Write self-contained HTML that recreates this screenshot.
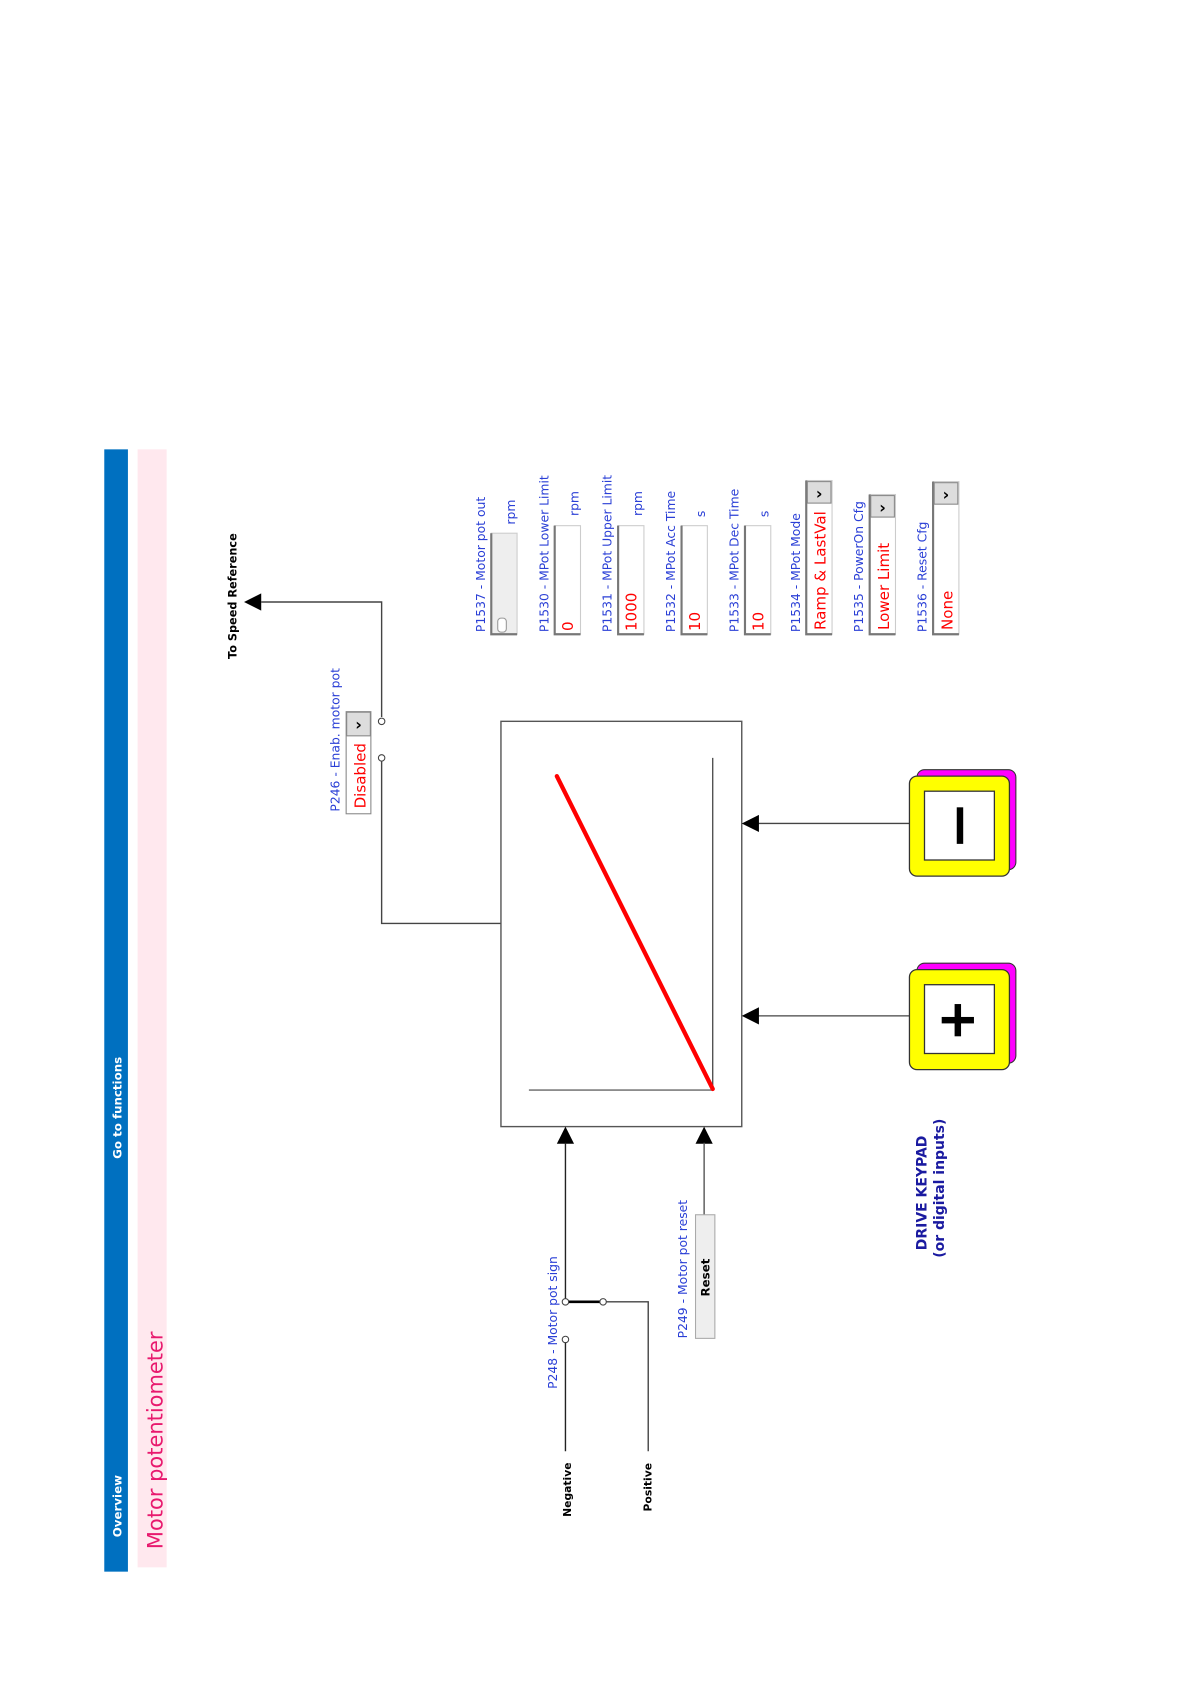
<!DOCTYPE html>
<html><head><meta charset="utf-8"><style>
html,body{margin:0;padding:0;background:#fff;}
svg{display:block;}
text{font-family:"DejaVu Sans","Liberation Sans",sans-serif;}
</style></head><body>
<svg width="1191" height="1684" viewBox="0 0 1191 1684" xmlns="http://www.w3.org/2000/svg">
<g transform="scale(1.075)">
<!-- header bars -->
<rect x="97" y="418" width="22" height="1044" fill="#0070c0"/>
<rect x="128" y="418" width="27" height="1040" fill="#ffe8ee"/>
<text transform="translate(113,1430) rotate(-90)" font-size="11" font-weight="bold" fill="#fff">Overview</text>
<text transform="translate(113,1078) rotate(-90)" font-size="11" font-weight="bold" fill="#fff">Go to functions</text>
<text transform="translate(151,1441) rotate(-90)" font-size="19.5" fill="#e8196e" font-family="Liberation Sans">Motor potentiometer</text>

<!-- To speed ref -->
<text transform="translate(220,613) rotate(-90)" font-size="10.5" font-weight="bold" fill="#000">To Speed Reference</text>
<polyline points="243,560 355,560 355,667" fill="none" stroke="#444" stroke-width="1.3"/>
<polygon points="227,560 243,552 243,568" fill="#000"/>
<circle cx="355" cy="671" r="3" fill="#fff" stroke="#444"/>
<circle cx="355" cy="705" r="3" fill="#fff" stroke="#444"/>
<polyline points="355,708 355,859 466,859" fill="none" stroke="#444" stroke-width="1.3"/>
<!-- P246 -->
<text transform="translate(316,755) rotate(-90)" font-size="11.5" fill="#2a3fd6">P246 - Enab. motor pot</text>
<rect x="322" y="662" width="23" height="95" fill="#fff" stroke="#888"/>
<rect x="322.5" y="662.5" width="22" height="22" fill="#ddd" stroke="#888"/>
<text x="333.5" y="679" text-anchor="middle" font-size="15" font-weight="bold" fill="#000">›</text>
<text transform="translate(340,752) rotate(-90)" font-size="14" fill="#f00" font-family="Liberation Sans">Disabled</text>

<!-- main box -->
<rect x="466" y="671" width="224" height="377" fill="#fff" stroke="#555" stroke-width="1.3"/>
<line x1="663" y1="705" x2="663" y2="1014" stroke="#444" stroke-width="1.2"/>
<line x1="492" y1="1014" x2="663" y2="1014" stroke="#666" stroke-width="1.2"/>
<line x1="518" y1="722" x2="663" y2="1013" stroke="#f00" stroke-width="4" stroke-linecap="round"/>

<!-- right arrows -->
<line x1="705" y1="766" x2="847" y2="766" stroke="#444" stroke-width="1.2"/>
<polygon points="690,766 706,758 706,774" fill="#000"/>
<line x1="705" y1="945" x2="847" y2="945" stroke="#444" stroke-width="1.2"/>
<polygon points="690,945 706,937 706,953" fill="#000"/>

<!-- keys -->
<rect x="853" y="716" width="92" height="93" rx="7" fill="#ff00ff" stroke="#333"/>
<rect x="846" y="722" width="93" height="93" rx="7" fill="#ffff00" stroke="#333" stroke-width="1.2"/>
<rect x="860" y="736" width="65" height="64" fill="#fff" stroke="#333" stroke-width="1.2"/>
<rect x="890" y="751" width="6" height="34" fill="#000"/>
<rect x="853" y="896" width="92" height="93" rx="7" fill="#ff00ff" stroke="#333"/>
<rect x="846" y="902" width="93" height="93" rx="7" fill="#ffff00" stroke="#333" stroke-width="1.2"/>
<rect x="860" y="916" width="65" height="64" fill="#fff" stroke="#333" stroke-width="1.2"/>
<rect x="876" y="946" width="30" height="6" fill="#000"/>
<rect x="888" y="934" width="6" height="30" fill="#000"/>
<text transform="translate(862,1163) rotate(-90)" font-size="13" font-weight="bold" fill="#1a1aa0" font-family="Liberation Sans">DRIVE KEYPAD</text>
<text transform="translate(878,1170) rotate(-90)" font-size="13" font-weight="bold" fill="#1a1aa0" font-family="Liberation Sans">(or digital inputs)</text>

<!-- bottom inputs -->
<polygon points="526,1048 518,1064 534,1064" fill="#000"/>
<line x1="526" y1="1063" x2="526" y2="1208" stroke="#222" stroke-width="1.3"/>
<polygon points="655,1048 647,1064 663,1064" fill="#000"/>
<line x1="655" y1="1063" x2="655" y2="1130" stroke="#555" stroke-width="1.3"/>
<line x1="526" y1="1211" x2="561" y2="1211" stroke="#000" stroke-width="2.5"/>
<circle cx="526" cy="1211" r="3" fill="#fff" stroke="#444"/>
<circle cx="561" cy="1211" r="3" fill="#fff" stroke="#444"/>
<circle cx="526" cy="1246" r="3" fill="#fff" stroke="#444"/>
<polyline points="564,1211 603,1211 603,1350" fill="none" stroke="#444" stroke-width="1.3"/>
<line x1="526" y1="1249" x2="526" y2="1350" stroke="#222" stroke-width="1.3"/>
<text transform="translate(518,1292) rotate(-90)" font-size="11.5" fill="#2a3fd6">P248 - Motor pot sign</text>
<text transform="translate(531,1411) rotate(-90)" font-size="10" font-weight="bold" fill="#000">Negative</text>
<text transform="translate(606,1406) rotate(-90)" font-size="10" font-weight="bold" fill="#000">Positive</text>
<rect x="647" y="1130" width="18" height="115" fill="#eee" stroke="#aaa"/>
<text transform="translate(660,1206) rotate(-90)" font-size="11" font-weight="bold" fill="#000">Reset</text>
<text transform="translate(639,1245) rotate(-90)" font-size="11.5" fill="#2a3fd6">P249 - Motor pot reset</text>

<!-- params -->
<g font-size="11.5" fill="#2a3fd6">
<text transform="translate(451,588) rotate(-90)">P1537 - Motor pot out</text>
<text transform="translate(510,588) rotate(-90)">P1530 - MPot Lower Limit</text>
<text transform="translate(569,588) rotate(-90)">P1531 - MPot Upper Limit</text>
<text transform="translate(628,588) rotate(-90)">P1532 - MPot Acc Time</text>
<text transform="translate(687,588) rotate(-90)">P1533 - MPot Dec Time</text>
<text transform="translate(744,588) rotate(-90)">P1534 - MPot Mode</text>
<text transform="translate(803,588) rotate(-90)">P1535 - PowerOn Cfg</text>
<text transform="translate(862,588) rotate(-90)">P1536 - Reset Cfg</text>
<text transform="translate(479,488) rotate(-90)">rpm</text>
<text transform="translate(538,480) rotate(-90)">rpm</text>
<text transform="translate(597,480) rotate(-90)">rpm</text>
<text transform="translate(656,481) rotate(-90)">s</text>
<text transform="translate(715,481) rotate(-90)">s</text>
</g>
<rect x="457" y="496" width="24" height="94" fill="#eee" stroke="#ccc"/>
<path d="M457,496 V590 H481" fill="none" stroke="#777" stroke-width="2"/>
<rect x="463" y="575" width="8" height="13" rx="3" fill="#fff" stroke="#999"/>
<g fill="#fff" stroke="#ccc">
<rect x="516" y="489" width="24" height="101"/>
<rect x="575" y="489" width="24" height="101"/>
<rect x="634" y="489" width="24" height="101"/>
<rect x="693" y="489" width="24" height="101"/>
<rect x="750" y="447" width="24" height="143"/>
<rect x="809" y="460" width="24" height="130"/>
<rect x="868" y="448" width="24" height="142"/>
</g>
<g fill="none" stroke="#777" stroke-width="2">
<path d="M516,489 V590 H540"/><path d="M575,489 V590 H599"/><path d="M634,489 V590 H658"/><path d="M693,489 V590 H717"/>
<path d="M750,447 V590 H774"/><path d="M809,460 V590 H833"/><path d="M868,448 V590 H892"/>
</g>
<g fill="#ddd" stroke="#888">
<rect x="751" y="448" width="22" height="20"/>
<rect x="810" y="461" width="22" height="20"/>
<rect x="869" y="449" width="22" height="20"/>
</g>
<g font-size="15" font-weight="bold" fill="#000" text-anchor="middle">
<text x="762" y="464">›</text>
<text x="821" y="477">›</text>
<text x="880" y="465">›</text>
</g>
<g font-size="14" fill="#f00" font-family="Liberation Sans">
<text transform="translate(533,587) rotate(-90)">0</text>
<text transform="translate(592,587) rotate(-90)">1000</text>
<text transform="translate(651,587) rotate(-90)">10</text>
<text transform="translate(710,587) rotate(-90)">10</text>
<text transform="translate(768,586) rotate(-90)">Ramp &amp; LastVal</text>
<text transform="translate(827,586) rotate(-90)">Lower Limit</text>
<text transform="translate(886,586) rotate(-90)">None</text>
</g>
</g>
</svg>
</body></html>
